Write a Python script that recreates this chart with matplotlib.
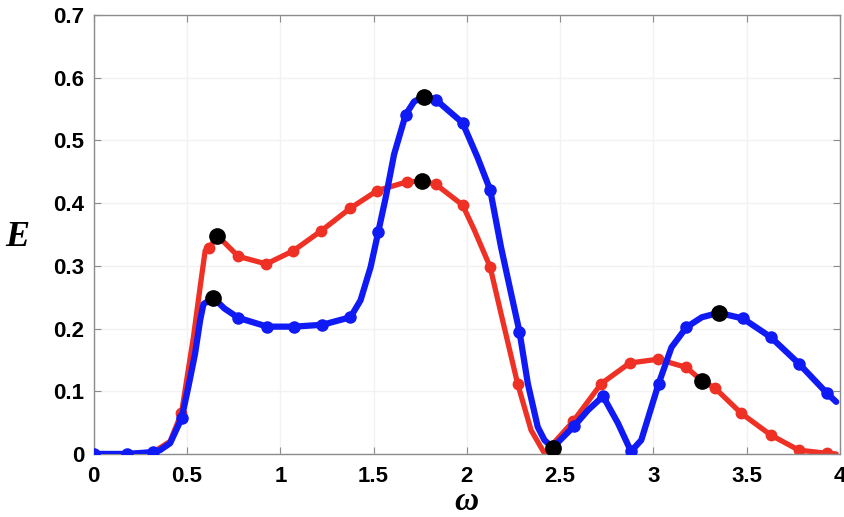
"""Plots energy E versus frequency omega for two cases (red and blue)."""

import matplotlib
matplotlib.use('agg')
from matplotlib import pyplot

FIGURE_RESOLUTION_DPI = 100
OUTPUT_FILE_NAME = 'out.png'

# Curves (denser than the markers).
BLUE_CURVE_OMEGAS = [
    0, 0.18, 0.32, 0.355, 0.409, 0.471, 0.507, 0.543, 0.570, 0.588, 0.641,
    0.70, 0.775, 0.93, 1.075, 1.226, 1.376, 1.43, 1.484, 1.525, 1.565, 1.61,
    1.672, 1.717, 1.77, 1.833, 1.977, 2.057, 2.125, 2.183, 2.237, 2.282,
    2.327, 2.38, 2.416, 2.46, 2.577, 2.65, 2.73, 2.81, 2.88, 2.935, 3.028,
    3.097, 3.177, 3.26, 3.35, 3.48, 3.63, 3.78, 3.93, 3.98
]
BLUE_CURVE_ENERGIES = [
    0, 0, 0.003, 0.006, 0.017, 0.057, 0.107, 0.160, 0.213, 0.239, 0.249,
    0.232, 0.217, 0.203, 0.203, 0.206, 0.218, 0.245, 0.298, 0.354, 0.409,
    0.478, 0.541, 0.562, 0.570, 0.565, 0.528, 0.473, 0.421, 0.330, 0.256,
    0.195, 0.112, 0.043, 0.022, 0.010, 0.045, 0.070, 0.092, 0.049, 0.004,
    0.022, 0.112, 0.170, 0.202, 0.218, 0.225, 0.216, 0.186, 0.144, 0.097,
    0.083
]
RED_CURVE_OMEGAS = [
    0, 0.18, 0.32, 0.409, 0.47, 0.534, 0.570, 0.597, 0.62, 0.663, 0.775,
    0.925, 1.07, 1.22, 1.376, 1.52, 1.68, 1.76, 1.833, 1.977, 2.04, 2.125,
    2.183, 2.272, 2.344, 2.416, 2.57, 2.72, 2.873, 3.025, 3.177, 3.258, 3.33,
    3.47, 3.63, 3.78, 3.93, 3.98
]
RED_CURVE_ENERGIES = [
    0, 0, 0.003, 0.020, 0.065, 0.186, 0.266, 0.324, 0.329, 0.348, 0.315,
    0.303, 0.324, 0.356, 0.392, 0.420, 0.434, 0.435, 0.430, 0.397, 0.357,
    0.298, 0.224, 0.112, 0.038, 0.001, 0.052, 0.112, 0.145, 0.151, 0.138,
    0.117, 0.105, 0.065, 0.030, 0.006, 0.001, 0.0
]

# Sample markers on each curve.
BLUE_MARKER_OMEGAS = [
    0, 0.18, 0.32, 0.471, 0.775, 0.93, 1.075, 1.226, 1.376, 1.525, 1.672,
    1.833, 1.977, 2.125, 2.282, 2.577, 2.73, 2.88, 3.028, 3.177, 3.48, 3.63,
    3.78, 3.93
]
BLUE_MARKER_ENERGIES = [
    0, 0, 0.003, 0.057, 0.217, 0.203, 0.203, 0.206, 0.218, 0.354, 0.541,
    0.565, 0.528, 0.421, 0.195, 0.045, 0.092, 0.004, 0.112, 0.202, 0.216,
    0.186, 0.144, 0.097
]
RED_MARKER_OMEGAS = [
    0.47, 0.62, 0.775, 0.925, 1.07, 1.22, 1.376, 1.52, 1.68, 1.833, 1.977,
    2.125, 2.272, 2.57, 2.72, 2.873, 3.025, 3.177, 3.33, 3.47, 3.63, 3.78,
    3.93
]
RED_MARKER_ENERGIES = [
    0.065, 0.329, 0.315, 0.303, 0.324, 0.356, 0.392, 0.420, 0.434, 0.430,
    0.397, 0.298, 0.112, 0.052, 0.112, 0.145, 0.151, 0.138, 0.105, 0.065,
    0.030, 0.006, 0.001
]

HIGHLIGHT_OMEGAS = [0.663, 0.641, 1.77, 1.76, 2.46, 3.35, 3.258]
HIGHLIGHT_ENERGIES = [0.348, 0.249, 0.570, 0.435, 0.010, 0.225, 0.117]

X_TICK_VALUES = [0, 0.5, 1, 1.5, 2, 2.5, 3, 3.5, 4]
X_TICK_LABELS = ['0', '0.5', '1', '1.5', '2', '2.5', '3', '3.5', '4']
Y_TICK_VALUES = [0, 0.1, 0.2, 0.3, 0.4, 0.5, 0.6, 0.7]
Y_TICK_LABELS = ['0', '0.1', '0.2', '0.3', '0.4', '0.5', '0.6', '0.7']

RED_COLOUR = '#ee3124'
BLUE_COLOUR = '#0f1af5'
SPINE_COLOUR = '#8c8c8c'
TICK_FONT = 'Liberation Sans'
LABEL_FONT = 'Liberation Serif'


def _run():
    """Main method."""

    figure_object = pyplot.figure(figsize=(8.45, 5.17))
    axes_object = figure_object.add_axes([0.111, 0.122, 0.883, 0.849])

    axes_object.plot(
        RED_CURVE_OMEGAS, RED_CURVE_ENERGIES, color=RED_COLOUR,
        linewidth=3.8, solid_capstyle='round', zorder=2
    )
    axes_object.plot(
        RED_MARKER_OMEGAS, RED_MARKER_ENERGIES, linestyle='none',
        marker='o', markersize=7.5, color=RED_COLOUR, zorder=2
    )
    axes_object.plot(
        BLUE_CURVE_OMEGAS, BLUE_CURVE_ENERGIES, color=BLUE_COLOUR,
        linewidth=4.5, solid_capstyle='round', zorder=3
    )
    axes_object.plot(
        BLUE_MARKER_OMEGAS, BLUE_MARKER_ENERGIES, linestyle='none',
        marker='o', markersize=8, color=BLUE_COLOUR, zorder=3
    )
    axes_object.plot(
        HIGHLIGHT_OMEGAS, HIGHLIGHT_ENERGIES, linestyle='none', marker='o',
        markersize=11, color='black', zorder=4
    )

    axes_object.set_xlim(0, 4)
    axes_object.set_ylim(0, 0.7)
    axes_object.set_xticks(X_TICK_VALUES)
    axes_object.set_xticklabels(
        X_TICK_LABELS, fontfamily=TICK_FONT, fontweight='bold', fontsize=16
    )
    axes_object.set_yticks(Y_TICK_VALUES)
    axes_object.set_yticklabels(
        Y_TICK_LABELS, fontfamily=TICK_FONT, fontweight='bold', fontsize=16
    )
    axes_object.tick_params(
        direction='in', length=5, width=0.8, color=SPINE_COLOUR,
        top=True, right=True
    )
    axes_object.tick_params(axis='x', pad=9)
    axes_object.tick_params(axis='y', pad=7)
    for this_spine in axes_object.spines.values():
        this_spine.set_color(SPINE_COLOUR)
        this_spine.set_linewidth(1)

    axes_object.grid(True, color='#f2f2f2', linewidth=1)
    axes_object.set_axisbelow(True)

    axes_object.set_xlabel(
        '\u03c9', fontfamily=LABEL_FONT, fontweight='bold',
        fontstyle='italic', fontsize=24
    )
    axes_object.xaxis.set_label_coords(0.499, -0.073)
    axes_object.set_ylabel(
        'E', fontfamily=LABEL_FONT, fontweight='bold', fontstyle='italic',
        fontsize=26, rotation=0
    )
    axes_object.yaxis.set_label_coords(-0.103, 0.455)

    figure_object.savefig(OUTPUT_FILE_NAME, dpi=FIGURE_RESOLUTION_DPI)
    pyplot.close(figure_object)


if __name__ == '__main__':
    _run()
